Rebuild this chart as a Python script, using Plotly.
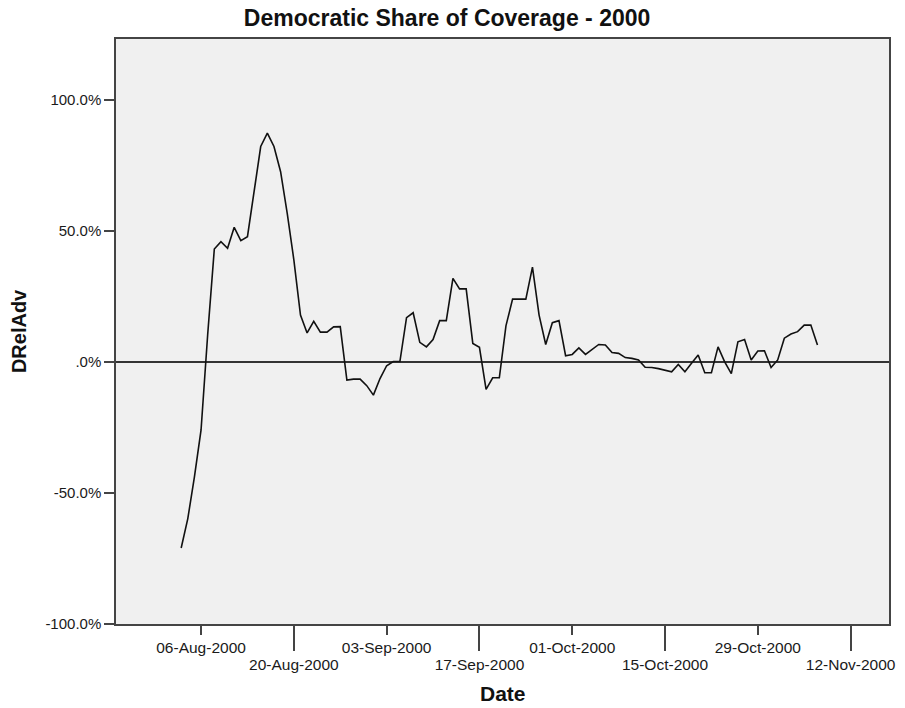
import plotly.graph_objects as go
import pandas as pd

# Daily values, 03-Aug-2000 .. 07-Nov-2000 (percent)
start_date = "2000-08-03"
drel_adv = [
    -71.0, -59.8, -43.9, -26.0, 10.4, 43.0, 45.8, 43.3, 51.3, 46.2,
    47.7, 64.9, 82.1, 87.2, 82.1, 72.5, 56.6, 38.9, 17.8, 11.0,
    15.4, 11.3, 11.3, 13.3, 13.4, -7.0, -6.6, -6.6, -9.1, -12.7,
    -6.4, -1.5, 0.1, 0.1, 16.8, 18.7, 7.4, 5.7, 8.5, 15.7,
    15.7, 31.8, 27.8, 27.8, 7.0, 5.5, -10.5, -6.1, -6.1, 13.7,
    23.9, 23.9, 23.9, 36.1, 17.8, 6.6, 14.9, 15.7, 2.3, 2.8,
    5.3, 2.8, 4.7, 6.6, 6.4, 3.5, 3.2, 1.6, 1.3, 0.7,
    -2.1, -2.2, -2.6, -3.2, -3.8, -1.0, -3.8, -0.6, 2.6, -4.2,
    -4.2, 5.7, 0.0, -4.5, 7.6, 8.5, 0.7, 4.1, 4.2, -2.2,
    0.7, 9.0, 10.6, 11.5, 14.0, 14.0, 6.4,
]
dates = pd.date_range(start_date, periods=len(drel_adv), freq="D")

# Tick labels (staggered in two rows)
ticks_row1 = ["2000-08-06", "2000-09-03", "2000-10-01", "2000-10-29"]
labels_row1 = ["06-Aug-2000", "03-Sep-2000", "01-Oct-2000", "29-Oct-2000"]
ticks_row2 = ["2000-08-20", "2000-09-17", "2000-10-15", "2000-11-12"]
labels_row2 = ["20-Aug-2000", "17-Sep-2000", "15-Oct-2000", "12-Nov-2000"]

y_tickvals = [-100, -50, 0, 50, 100]
y_ticktext = ["-100.0%", "-50.0%", ".0%", "50.0%", "100.0%"]

x_range = ["2000-07-24 04:00", "2000-11-17 19:00"]
y_range = [-100, 123.1]

FONT = "Arial, Liberation Sans, sans-serif"
AXIS_COLOR = "#444444"
TEXT_COLOR = "#1a1a1a"

fig = go.Figure()
fig.add_trace(go.Scatter(
    x=dates, y=drel_adv, mode="lines",
    line=dict(color="#111111", width=1.6),
    showlegend=False,
))
# invisible helper trace for the second (long-tick) x axis
fig.add_trace(go.Scatter(
    x=dates, y=drel_adv, mode="lines", xaxis="x2",
    opacity=0, showlegend=False, hoverinfo="skip",
))

fig.update_layout(
    width=905, height=708,
    margin=dict(l=116, r=10, t=39, b=84),
    paper_bgcolor="white",
    plot_bgcolor="#f0f0f0",
    font=dict(family=FONT, size=15, color=TEXT_COLOR),
    title=dict(
        text="<b>Democratic Share of Coverage - 2000</b>",
        x=0.494, xref="container", xanchor="center",
        y=0.974, yref="container", yanchor="middle",
        font=dict(family=FONT, size=23, color="#111111"),
    ),
    xaxis=dict(
        type="date", range=x_range,
        tickvals=ticks_row1, ticktext=labels_row1,
        ticks="outside", ticklen=9, tickwidth=1.5, tickcolor=AXIS_COLOR,
        showline=True, linecolor=AXIS_COLOR, linewidth=1.5, mirror=True,
        showgrid=False, zeroline=False,
        tickfont=dict(family=FONT, size=15.5, color=TEXT_COLOR),
    ),
    xaxis2=dict(
        type="date", range=x_range, overlaying="x", side="bottom",
        anchor="y",
        tickvals=ticks_row2, ticktext=labels_row2,
        ticks="outside", ticklen=26, tickwidth=1.5, tickcolor=AXIS_COLOR,
        showline=False, showgrid=False, zeroline=False,
        tickfont=dict(family=FONT, size=15.5, color=TEXT_COLOR),
    ),
    yaxis=dict(
        range=y_range,
        tickvals=y_tickvals, ticktext=y_ticktext,
        ticks="outside", ticklen=10, tickwidth=1.5, tickcolor=AXIS_COLOR,
        showline=True, linecolor=AXIS_COLOR, linewidth=1.5, mirror=True,
        showgrid=False,
        zeroline=True, zerolinecolor="#333333", zerolinewidth=2,
        tickfont=dict(family=FONT, size=15, color=TEXT_COLOR),
    ),
    annotations=[
        dict(text="<b>Date</b>", xref="paper", yref="paper",
             x=0.5, y=-0.118, xanchor="center", yanchor="middle",
             showarrow=False, font=dict(family=FONT, size=21, color="#111111")),
        dict(text="<b>DRelAdv</b>", xref="paper", yref="paper",
             x=-0.126, y=0.5, xanchor="center", yanchor="middle",
             textangle=-90, showarrow=False,
             font=dict(family=FONT, size=20, color="#111111")),
    ],
)

fig.write_html("out.html", config={"displayModeBar": False},
               post_script="document.body.style.margin='0px';")
